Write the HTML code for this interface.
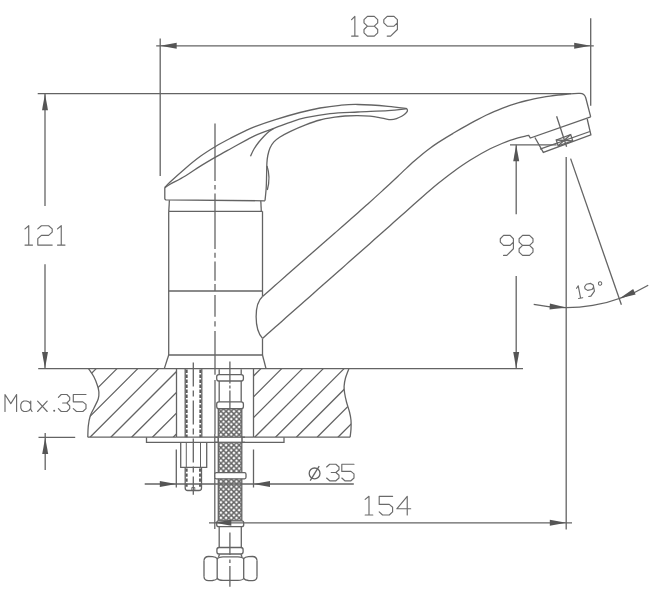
<!DOCTYPE html>
<html><head><meta charset="utf-8"><title>Faucet drawing</title>
<style>html,body{margin:0;padding:0;background:#fff;font-family:"Liberation Sans",sans-serif;}svg{display:block}</style></head>
<body>
<svg width="661" height="600" viewBox="0 0 661 600" shape-rendering="geometricPrecision">
<defs><filter id="soft" x="0" y="0" width="661" height="600" filterUnits="userSpaceOnUse"><feGaussianBlur stdDeviation="0.42"/></filter></defs>
<rect width="661" height="600" fill="#fff"/>
<g filter="url(#soft)">
<path d="M215.00 123.50 L215.00 181.00" fill="none" stroke="#646464" stroke-width="1.3"/>
<path d="M215.00 185.00 L215.00 189.50" fill="none" stroke="#646464" stroke-width="1.3"/>
<path d="M215.00 193.50 L215.00 249.00" fill="none" stroke="#646464" stroke-width="1.3"/>
<path d="M215.00 252.70 L215.00 257.70" fill="none" stroke="#646464" stroke-width="1.3"/>
<path d="M215.00 261.50 L215.00 280.70" fill="none" stroke="#646464" stroke-width="1.3"/>
<path d="M215.00 284.00 L215.00 291.00" fill="none" stroke="#646464" stroke-width="1.3"/>
<path d="M215.00 295.00 L215.00 316.70" fill="none" stroke="#646464" stroke-width="1.3"/>
<path d="M215.00 321.20 L215.00 326.50" fill="none" stroke="#646464" stroke-width="1.3"/>
<path d="M215.00 331.00 L215.00 374.70" fill="none" stroke="#646464" stroke-width="1.3"/>
<path d="M215.00 380.00 L215.00 434.00" fill="none" stroke="#646464" stroke-width="1.3"/>
<path d="M214.80 434.00 L214.80 529.00" fill="none" stroke="#646464" stroke-width="1.3"/>
<path d="M193.30 362.50 L193.30 494.70" fill="none" stroke="#646464" stroke-width="1.3" stroke-dasharray="24 4 6 4"/>
<path d="M164.80 187.60 C165.68 186.67 166.68 185.20 170.10 182.00 C173.52 178.80 180.25 172.68 185.30 168.40 C190.35 164.12 195.37 159.95 200.40 156.30 C205.43 152.65 210.47 149.52 215.50 146.50 C220.53 143.48 225.55 140.85 230.60 138.20 C235.65 135.55 241.73 132.53 245.80 130.60 C249.87 128.67 250.07 128.43 255.00 126.60 C259.93 124.77 267.90 121.95 275.40 119.60 C282.90 117.25 292.57 114.43 300.00 112.50 C307.43 110.57 313.33 109.20 320.00 108.00 C326.67 106.80 333.70 105.88 340.00 105.30 C346.30 104.72 349.80 104.33 357.80 104.50 C365.80 104.67 379.80 105.60 388.00 106.30 C396.20 107.00 403.83 108.30 407.00 108.70" fill="none" stroke="#646464" stroke-width="1.3"/>
<path d="M164.80 187.60 C165.68 187.05 166.68 186.23 170.10 184.30 C173.52 182.37 180.25 179.03 185.30 176.00 C190.35 172.97 195.37 169.25 200.40 166.10 C205.43 162.95 210.47 160.00 215.50 157.10 C220.53 154.20 225.55 151.48 230.60 148.70 C235.65 145.92 241.73 142.58 245.80 140.40 C249.87 138.22 250.32 137.62 255.00 135.60 C259.68 133.58 268.07 130.52 273.90 128.30 C279.73 126.08 284.72 124.07 290.00 122.30 C295.28 120.53 298.93 119.15 305.60 117.70 C312.27 116.25 321.30 114.55 330.00 113.60 C338.70 112.65 348.13 112.48 357.80 112.00 C367.47 111.52 379.80 111.25 388.00 110.70 C396.20 110.15 403.83 109.03 407.00 108.70" fill="none" stroke="#646464" stroke-width="1.3"/>
<path d="M407.00 108.70 C407.07 109.08 407.65 110.20 407.40 111.00 C407.15 111.80 406.45 112.62 405.50 113.50 C404.55 114.38 403.20 115.45 401.70 116.30 C400.20 117.15 398.28 118.05 396.50 118.60 C394.72 119.15 392.83 119.55 391.00 119.60 C389.17 119.65 387.25 119.20 385.50 118.90 C383.75 118.60 383.08 118.25 380.50 117.80 C377.92 117.35 373.78 116.57 370.00 116.20 C366.22 115.83 361.97 115.63 357.80 115.60 C353.63 115.57 348.80 115.73 345.00 116.00 C341.20 116.27 339.17 116.53 335.00 117.20 C330.83 117.87 324.90 118.73 320.00 120.00 C315.10 121.27 310.52 122.92 305.60 124.80 C300.68 126.68 294.77 129.27 290.50 131.30 C286.23 133.33 282.77 135.23 280.00 137.00 C277.23 138.77 275.57 140.07 273.90 141.90 C272.23 143.73 271.02 145.73 270.00 148.00 C268.98 150.27 268.32 153.00 267.80 155.50 C267.28 158.00 267.10 159.75 266.90 163.00 C266.70 166.25 266.72 170.83 266.60 175.00 C266.48 179.17 266.47 183.70 266.20 188.00 C265.93 192.30 265.20 198.67 265.00 200.80" fill="none" stroke="#646464" stroke-width="1.3"/>
<path d="M250.40 156.30 C251.00 155.08 252.65 151.30 254.00 149.00 C255.35 146.70 256.83 144.63 258.50 142.50 C260.17 140.37 262.25 138.03 264.00 136.20 C265.75 134.37 267.35 132.82 269.00 131.50 C270.65 130.18 273.08 128.83 273.90 128.30" fill="none" stroke="#646464" stroke-width="1.3"/>
<path d="M267 166 Q270.8 177 267.3 190" fill="none" stroke="#646464" stroke-width="1.3"/>
<path d="M164.80 187.60 L164.80 198.90 L165.80 199.90 L265.00 200.80" fill="none" stroke="#646464" stroke-width="1.3"/>
<path d="M169.40 200.30 L168.80 211.30" fill="none" stroke="#646464" stroke-width="1.3"/>
<path d="M260.80 200.80 L261.30 211.30" fill="none" stroke="#646464" stroke-width="1.3"/>
<path d="M168.70 211.30 L262.50 211.30" fill="none" stroke="#646464" stroke-width="1.3"/>
<path d="M168.70 211.30 L168.70 355.00" fill="none" stroke="#646464" stroke-width="1.3"/>
<path d="M262.50 211.30 L262.50 296.50" fill="none" stroke="#646464" stroke-width="1.3"/>
<path d="M262.50 338.60 L262.50 355.00" fill="none" stroke="#646464" stroke-width="1.3"/>
<path d="M168.70 291.00 L262.50 291.00" fill="none" stroke="#646464" stroke-width="1.3"/>
<path d="M168.70 355.00 L262.50 355.00" fill="none" stroke="#646464" stroke-width="1.3"/>
<path d="M168.70 355.00 L164.30 368.60" fill="none" stroke="#646464" stroke-width="1.3"/>
<path d="M262.50 355.00 L266.00 368.60" fill="none" stroke="#646464" stroke-width="1.3"/>
<path d="M262.50 296.60 C263.75 295.50 267.42 292.30 270.00 290.01 C272.58 287.72 275.33 285.24 278.00 282.87 C280.67 280.50 283.33 278.14 286.00 275.79 C288.67 273.44 291.33 271.09 294.00 268.75 C296.67 266.41 299.33 264.07 302.00 261.74 C304.67 259.41 307.33 257.08 310.00 254.76 C312.67 252.43 315.33 250.11 318.00 247.78 C320.67 245.46 323.33 243.13 326.00 240.81 C328.67 238.48 331.33 236.15 334.00 233.82 C336.67 231.49 339.33 229.16 342.00 226.82 C344.67 224.48 347.33 222.13 350.00 219.78 C352.67 217.43 355.33 215.07 358.00 212.70 C360.67 210.33 363.33 207.96 366.00 205.57 C368.67 203.18 371.33 200.79 374.00 198.38 C376.67 195.97 379.33 193.55 382.00 191.11 C384.67 188.67 387.33 186.23 390.00 183.75 C392.67 181.27 395.33 178.75 398.00 176.23 C400.67 173.71 403.33 171.13 406.00 168.64 C408.67 166.14 411.33 163.65 414.00 161.27 C416.67 158.90 419.33 156.58 422.00 154.40 C424.67 152.22 427.33 150.16 430.00 148.20 C432.67 146.25 435.33 144.43 438.00 142.66 C440.67 140.89 443.33 139.24 446.00 137.59 C448.67 135.95 451.33 134.39 454.00 132.81 C456.67 131.24 459.33 129.69 462.00 128.15 C464.67 126.62 467.33 125.10 470.00 123.62 C472.67 122.15 475.33 120.69 478.00 119.30 C480.67 117.90 483.33 116.55 486.00 115.26 C488.67 113.98 491.33 112.75 494.00 111.60 C496.67 110.44 499.33 109.36 502.00 108.33 C504.67 107.31 507.33 106.35 510.00 105.45 C512.67 104.55 515.33 103.71 518.00 102.93 C520.67 102.15 523.33 101.42 526.00 100.75 C528.67 100.08 531.33 99.46 534.00 98.89 C536.67 98.32 539.33 97.81 542.00 97.33 C544.67 96.86 547.33 96.43 550.00 96.05 C552.67 95.66 555.33 95.32 558.00 95.02 C560.67 94.72 563.33 94.46 566.00 94.23 C568.67 94.00 571.67 93.80 574.00 93.65 C576.33 93.50 579.00 93.40 580.00 93.34 Q584.6 93.4 585.8 98 L590.7 116.9" fill="none" stroke="#646464" stroke-width="1.3"/>
<path d="M262.50 338.40 C263.75 337.30 267.42 334.06 270.00 331.77 C272.58 329.49 275.33 327.04 278.00 324.68 C280.67 322.32 283.33 319.96 286.00 317.60 C288.67 315.24 291.33 312.88 294.00 310.52 C296.67 308.16 299.33 305.81 302.00 303.45 C304.67 301.10 307.33 298.75 310.00 296.39 C312.67 294.04 315.33 291.69 318.00 289.33 C320.67 286.98 323.33 284.63 326.00 282.28 C328.67 279.93 331.33 277.57 334.00 275.22 C336.67 272.87 339.33 270.52 342.00 268.16 C344.67 265.81 347.33 263.45 350.00 261.10 C352.67 258.74 355.33 256.39 358.00 254.03 C360.67 251.67 363.33 249.31 366.00 246.95 C368.67 244.59 371.33 242.22 374.00 239.86 C376.67 237.49 379.33 235.13 382.00 232.76 C384.67 230.39 387.33 228.02 390.00 225.65 C392.67 223.27 395.33 220.90 398.00 218.52 C400.67 216.15 403.33 213.77 406.00 211.39 C408.67 209.01 411.33 206.63 414.00 204.26 C416.67 201.90 419.33 199.53 422.00 197.20 C424.67 194.87 427.33 192.56 430.00 190.29 C432.67 188.03 435.33 185.79 438.00 183.62 C440.67 181.44 443.33 179.31 446.00 177.25 C448.67 175.18 451.33 173.17 454.00 171.23 C456.67 169.28 459.33 167.40 462.00 165.58 C464.67 163.76 467.33 162.00 470.00 160.31 C472.67 158.62 475.33 157.00 478.00 155.45 C480.67 153.90 483.33 152.42 486.00 151.01 C488.67 149.61 491.33 148.27 494.00 147.02 C496.67 145.76 499.33 144.58 502.00 143.48 C504.67 142.39 507.33 141.37 510.00 140.44 C512.67 139.52 515.33 138.67 518.00 137.92 C520.67 137.17 524.20 136.36 526.00 135.94 C527.80 135.51 528.33 135.47 528.80 135.38 L530.3 138 L590.7 116.9" fill="none" stroke="#646464" stroke-width="1.3"/>
<path d="M262.5 296.60 C254 304 254 329 262.5 338.40" fill="none" stroke="#646464" stroke-width="1.3"/>
<path d="M534.90 137.50 L543.30 152.40 L590.90 134.80 L587.20 119.00" fill="none" stroke="#646464" stroke-width="1.3"/>
<path d="M540.00 149.10 L589.90 131.50" fill="none" stroke="#646464" stroke-width="1.3"/>
<path d="M556.20 140.00 L570.70 134.60 L572.70 140.80 L558.20 145.80 Z" fill="none" stroke="#646464" stroke-width="1.3"/>
<path d="M556.20 140.00 L572.70 140.80" fill="none" stroke="#646464" stroke-width="1.3"/>
<path d="M570.70 134.60 L558.20 145.80" fill="none" stroke="#646464" stroke-width="1.3"/>
<path d="M556.60 116.30 L566.60 146.80" fill="none" stroke="#646464" stroke-width="1.3"/>
<path d="M88.50 368.60 C89.42 370.00 92.50 374.15 94.00 377.00 C95.50 379.85 96.68 383.20 97.50 385.70 C98.32 388.20 98.78 389.78 98.90 392.00 C99.02 394.22 99.02 396.33 98.20 399.00 C97.38 401.67 95.33 405.17 94.00 408.00 C92.67 410.83 91.15 413.00 90.20 416.00 C89.25 419.00 88.70 422.47 88.30 426.00 C87.90 429.53 87.88 435.33 87.80 437.20" fill="none" stroke="#646464" stroke-width="1.3"/>
<path d="M348.90 368.60 C348.33 370.17 346.30 375.05 345.50 378.00 C344.70 380.95 344.25 383.80 344.10 386.30 C343.95 388.80 344.20 390.38 344.60 393.00 C345.00 395.62 345.68 398.83 346.50 402.00 C347.32 405.17 348.75 408.97 349.50 412.00 C350.25 415.03 350.75 417.37 351.00 420.20 C351.25 423.03 351.15 426.17 351.00 429.00 C350.85 431.83 350.25 435.83 350.10 437.20" fill="none" stroke="#646464" stroke-width="1.3"/>
<path d="M87.80 437.20 L176.50 437.20" fill="none" stroke="#646464" stroke-width="1.3"/>
<path d="M253.50 437.20 L350.10 437.20" fill="none" stroke="#646464" stroke-width="1.3"/>
<path d="M176.50 368.60 L176.50 437.20" fill="none" stroke="#646464" stroke-width="1.3"/>
<path d="M253.50 368.60 L253.50 437.20" fill="none" stroke="#646464" stroke-width="1.3"/>
<clipPath id="cl"><path d="M88.50 368.60 C89.42 370.00 92.50 374.15 94.00 377.00 C95.50 379.85 96.68 383.20 97.50 385.70 C98.32 388.20 98.78 389.78 98.90 392.00 C99.02 394.22 99.02 396.33 98.20 399.00 C97.38 401.67 95.33 405.17 94.00 408.00 C92.67 410.83 91.15 413.00 90.20 416.00 C89.25 419.00 88.70 422.47 88.30 426.00 C87.90 429.53 87.88 435.33 87.80 437.20 L176.5 437.2 L176.5 368.6 Z"/></clipPath>
<clipPath id="cr"><path d="M253.5 368.6 L253.5 437.2 L350.10 437.20 C350.25 435.83 350.85 431.83 351.00 429.00 C351.15 426.17 351.25 423.03 351.00 420.20 C350.75 417.37 350.25 415.03 349.50 412.00 C348.75 408.97 347.32 405.17 346.50 402.00 C345.68 398.83 345.00 395.62 344.60 393.00 C344.20 390.38 343.95 388.80 344.10 386.30 C344.25 383.80 344.70 380.95 345.50 378.00 C346.30 375.05 348.33 370.17 348.90 368.60 Z"/></clipPath>
<g clip-path="url(#cl)"><path d="M-34.80 437.20 L33.80 368.60 M-14.00 437.20 L54.60 368.60 M6.80 437.20 L75.40 368.60 M27.60 437.20 L96.20 368.60 M48.40 437.20 L117.00 368.60 M69.20 437.20 L137.80 368.60 M90.00 437.20 L158.60 368.60 M110.80 437.20 L179.40 368.60 M131.60 437.20 L200.20 368.60 M152.40 437.20 L221.00 368.60 M173.20 437.20 L241.80 368.60 M194.00 437.20 L262.60 368.60 M214.80 437.20 L283.40 368.60 M235.60 437.20 L304.20 368.60 M256.40 437.20 L325.00 368.60 M277.20 437.20 L345.80 368.60 " fill="none" stroke="#646464" stroke-width="1.3"/></g>
<g clip-path="url(#cr)"><path d="M129.90 437.20 L198.50 368.60 M150.70 437.20 L219.30 368.60 M171.50 437.20 L240.10 368.60 M192.30 437.20 L260.90 368.60 M213.10 437.20 L281.70 368.60 M233.90 437.20 L302.50 368.60 M254.70 437.20 L323.30 368.60 M275.50 437.20 L344.10 368.60 M296.30 437.20 L364.90 368.60 M317.10 437.20 L385.70 368.60 M337.90 437.20 L406.50 368.60 M358.70 437.20 L427.30 368.60 M379.50 437.20 L448.10 368.60 M400.30 437.20 L468.90 368.60 M421.10 437.20 L489.70 368.60 M441.90 437.20 L510.50 368.60 " fill="none" stroke="#646464" stroke-width="1.3"/></g>
<path d="M146.50 437.20 L146.50 442.30 L284.00 442.30 L284.00 437.20" fill="none" stroke="#646464" stroke-width="1.3"/>
<path d="M176.50 437.20 L253.50 437.20" fill="none" stroke="#646464" stroke-width="1.3"/>
<path d="M185.20 368.60 L185.20 437.20" fill="none" stroke="#646464" stroke-width="1.3"/>
<path d="M201.80 368.60 L201.80 437.20" fill="none" stroke="#646464" stroke-width="1.3"/>
<path d="M186.70 369.60 L186.70 437.20" fill="none" stroke="#5a5a5a" stroke-width="1.9" stroke-dasharray="3.3 1.7"/>
<path d="M200.30 369.60 L200.30 437.20" fill="none" stroke="#5a5a5a" stroke-width="1.9" stroke-dasharray="3.3 1.7"/>
<path d="M180.70 442.00 L180.70 467.30 L206.70 467.30 L206.70 442.00" fill="none" stroke="#646464" stroke-width="1.3"/>
<path d="M186.30 442.00 L186.30 467.30" fill="none" stroke="#646464" stroke-width="1.0"/>
<path d="M200.50 442.00 L200.50 467.30" fill="none" stroke="#646464" stroke-width="1.0"/>
<path d="M185.2 467.3 L185.2 488 Q185.2 490.5 187.7 490.5 L199 490.5 Q201.5 490.5 201.5 488 L201.5 467.3" fill="none" stroke="#646464" stroke-width="1.3"/>
<path d="M186.70 468.50 L186.70 488.50" fill="none" stroke="#5a5a5a" stroke-width="1.9" stroke-dasharray="3.3 1.7"/>
<path d="M200.00 468.50 L200.00 488.50" fill="none" stroke="#5a5a5a" stroke-width="1.9" stroke-dasharray="3.3 1.7"/>
<path d="M191.8 490.5 L191.8 487.5 L194.8 487.5 L194.8 490.5" fill="none" stroke="#646464" stroke-width="0.9"/>
<path d="M219.20 369.20 L219.20 375.00" fill="none" stroke="#646464" stroke-width="1.3"/>
<path d="M241.20 369.20 L241.20 375.00" fill="none" stroke="#646464" stroke-width="1.3"/>
<path d="M219.20 381.00 L219.20 402.40" fill="none" stroke="#646464" stroke-width="1.3"/>
<path d="M241.20 381.00 L241.20 402.40" fill="none" stroke="#646464" stroke-width="1.3"/>
<pattern id="br" x="218.3" y="408.7" width="5.2" height="5.2" patternUnits="userSpaceOnUse"><rect width="5.2" height="5.2" fill="#fff"/><path d="M-1 -1 L6.2 6.2 M6.2 -1 L-1 6.2" stroke="#646464" stroke-width="1.4"/></pattern>
<rect x="218.3" y="408.6" width="23.5" height="112.2" fill="url(#br)" stroke="#646464" stroke-width="1.3"/>
<rect x="216.70" y="374.60" width="26.70" height="6.40" rx="2.2" fill="#fff" stroke="#646464" stroke-width="1.3"/>
<rect x="216.70" y="401.80" width="26.70" height="6.80" rx="2.2" fill="#fff" stroke="#646464" stroke-width="1.3"/>
<rect x="218.3" y="437.2" width="23.6" height="5.1" fill="#fff" stroke="none"/>
<path d="M218.30 437.20 L218.30 442.30" fill="none" stroke="#646464" stroke-width="1.3"/>
<path d="M241.90 437.20 L241.90 442.30" fill="none" stroke="#646464" stroke-width="1.3"/>
<path d="M215.00 437.20 L245.00 437.20" fill="none" stroke="#646464" stroke-width="1.3"/>
<path d="M215.00 442.30 L245.00 442.30" fill="none" stroke="#646464" stroke-width="1.3"/>
<rect x="214.80" y="472.70" width="31.20" height="6.10" rx="1.5" fill="#fff" stroke="#646464" stroke-width="1.3"/>
<rect x="216.70" y="520.80" width="27.00" height="5.90" rx="2.0" fill="#fff" stroke="#646464" stroke-width="1.3"/>
<path d="M219.20 526.70 L219.20 547.50" fill="none" stroke="#646464" stroke-width="1.3"/>
<path d="M241.30 526.70 L241.30 547.50" fill="none" stroke="#646464" stroke-width="1.3"/>
<rect x="216.90" y="547.50" width="26.20" height="6.50" rx="2.2" fill="#fff" stroke="#646464" stroke-width="1.3"/>
<path d="M219.50 554.20 L218.50 557.00" fill="none" stroke="#646464" stroke-width="1.3"/>
<path d="M241.00 554.20 L242.00 557.00" fill="none" stroke="#646464" stroke-width="1.3"/>
<path d="M204 560.50 Q204.3 556.70 208.5 556.50 L212.5 556.70 Q216 557.00 217.2 558.70 Q218.5 557.00 223 556.80 L238 556.80 Q242.5 557.00 243.7 558.70 Q245 557.00 248.5 556.70 L252.5 556.50 Q256.7 556.70 257 560.50" fill="none" stroke="#646464" stroke-width="1.3"/>
<path d="M204 576.70 Q204.3 580.50 208.5 580.70 L212.5 580.50 Q216 580.20 217.2 578.50 Q218.5 580.20 223 580.40 L238 580.40 Q242.5 580.20 243.7 578.50 Q245 580.20 248.5 580.50 L252.5 580.70 Q256.7 580.50 257 576.70" fill="none" stroke="#646464" stroke-width="1.3"/>
<path d="M204 560.50 L204 576.70 M257 560.50 L257 576.70 M217.2 558.70 L217.2 578.50 M243.7 558.70 L243.7 578.50" fill="none" stroke="#646464" stroke-width="1.3"/>
<path d="M229.90 361.50 L229.90 383.50" fill="none" stroke="#646464" stroke-width="1.3"/>
<path d="M229.90 385.50 L229.90 388.50" fill="none" stroke="#646464" stroke-width="1.3"/>
<path d="M229.90 390.50 L229.90 408.00" fill="none" stroke="#646464" stroke-width="1.3"/>
<path d="M229.90 532.50 L229.90 555.00" fill="none" stroke="#646464" stroke-width="1.3"/>
<path d="M229.90 559.50 L229.90 563.00" fill="none" stroke="#646464" stroke-width="1.3"/>
<path d="M229.90 566.00 L229.90 586.70" fill="none" stroke="#646464" stroke-width="1.3"/>
<path d="M351.60 19.60 L354.85 16.30 L354.85 36.10 M351.60 36.10 L358.10 36.10" fill="none" stroke="#6a6a6a" stroke-width="1.15" stroke-linejoin="round" stroke-linecap="round"/>
<path d="M367.43 26.20 L364.00 22.90 L364.00 19.60 L367.43 16.30 L374.27 16.30 L377.70 19.60 L377.70 22.90 L374.27 26.20 L367.43 26.20 L364.00 29.50 L364.00 32.80 L367.43 36.10 L374.27 36.10 L377.70 32.80 L377.70 29.50 L374.27 26.20" fill="none" stroke="#6a6a6a" stroke-width="1.15" stroke-linejoin="round" stroke-linecap="round"/>
<path d="M397.40 22.90 L394.00 26.20 L387.20 26.20 L383.80 22.90 L383.80 19.60 L387.20 16.30 L394.00 16.30 L397.40 19.60 L397.40 29.50 L390.60 36.10 L387.20 36.10" fill="none" stroke="#6a6a6a" stroke-width="1.15" stroke-linejoin="round" stroke-linecap="round"/>
<path d="M25.00 228.93 L28.75 225.70 L28.75 245.10 M25.00 245.10 L32.50 245.10" fill="none" stroke="#6a6a6a" stroke-width="1.15" stroke-linejoin="round" stroke-linecap="round"/>
<path d="M37.80 228.93 L41.40 225.70 L48.60 225.70 L52.20 228.93 L52.20 232.17 L48.60 235.40 L41.40 235.40 L37.80 238.63 L37.80 245.10 L52.20 245.10" fill="none" stroke="#6a6a6a" stroke-width="1.15" stroke-linejoin="round" stroke-linecap="round"/>
<path d="M57.50 228.93 L61.25 225.70 L61.25 245.10 M57.50 245.10 L65.00 245.10" fill="none" stroke="#6a6a6a" stroke-width="1.15" stroke-linejoin="round" stroke-linecap="round"/>
<path d="M513.40 242.07 L510.12 245.40 L503.57 245.40 L500.30 242.07 L500.30 238.73 L503.57 235.40 L510.12 235.40 L513.40 238.73 L513.40 248.73 L506.85 255.40 L503.57 255.40" fill="none" stroke="#6a6a6a" stroke-width="1.15" stroke-linejoin="round" stroke-linecap="round"/>
<path d="M522.58 245.40 L519.10 242.07 L519.10 238.73 L522.58 235.40 L529.52 235.40 L533.00 238.73 L533.00 242.07 L529.52 245.40 L522.58 245.40 L519.10 248.73 L519.10 252.07 L522.58 255.40 L529.52 255.40 L533.00 252.07 L533.00 248.73 L529.52 245.40" fill="none" stroke="#6a6a6a" stroke-width="1.15" stroke-linejoin="round" stroke-linecap="round"/>
<path d="M365.20 499.42 L369.00 496.30 L369.00 515.00 M365.20 515.00 L372.80 515.00" fill="none" stroke="#6a6a6a" stroke-width="1.15" stroke-linejoin="round" stroke-linecap="round"/>
<path d="M392.60 496.30 L379.20 496.30 L379.20 504.40 L389.25 504.40 L392.60 507.21 L392.60 511.88 L389.25 515.00 L382.55 515.00 L379.20 511.88" fill="none" stroke="#6a6a6a" stroke-width="1.15" stroke-linejoin="round" stroke-linecap="round"/>
<path d="M407.23 515.00 L407.23 496.30 L396.80 508.77 L410.70 508.77" fill="none" stroke="#6a6a6a" stroke-width="1.15" stroke-linejoin="round" stroke-linecap="round"/>
<circle cx="314.6" cy="473.4" r="5.4" fill="none" stroke="#646464" stroke-width="1.3"/>
<path d="M310.20 480.60 L319.20 466.20" fill="none" stroke="#646464" stroke-width="1.3"/>
<path d="M326.60 466.97 L329.70 464.20 L335.90 464.20 L339.00 466.97 L339.00 469.73 L335.90 472.50 L331.25 472.50 M335.90 472.50 L339.00 475.27 L339.00 478.03 L335.90 480.80 L329.70 480.80 L326.60 478.03" fill="none" stroke="#6a6a6a" stroke-width="1.15" stroke-linejoin="round" stroke-linecap="round"/>
<path d="M354.00 464.20 L341.80 464.20 L341.80 471.39 L350.95 471.39 L354.00 473.88 L354.00 478.03 L350.95 480.80 L344.85 480.80 L341.80 478.03" fill="none" stroke="#6a6a6a" stroke-width="1.15" stroke-linejoin="round" stroke-linecap="round"/>
<path d="M5.00 411.50 L5.00 394.50 L10.80 403.57 L16.60 394.50 L16.60 411.50" fill="none" stroke="#6a6a6a" stroke-width="1.15" stroke-linejoin="round" stroke-linecap="round"/>
<path d="M30.74 401.00 L30.74 409.40 L32.02 411.50 M30.74 408.35 L28.70 410.80 L26.41 411.50 L23.86 411.50 L21.82 410.27 L20.80 408.00 L20.80 404.50 L21.82 402.23 L23.86 401.00 L26.41 401.00 L28.70 401.70 L30.74 404.15" fill="none" stroke="#6a6a6a" stroke-width="1.15" stroke-linejoin="round" stroke-linecap="round"/>
<path d="M37.60 411.50 L47.20 401.20 M37.60 401.20 L47.20 411.50" fill="none" stroke="#6a6a6a" stroke-width="1.15" stroke-linejoin="round" stroke-linecap="round"/>
<circle cx="54.2" cy="410.8" r="1" fill="#646464"/>
<path d="M58.40 397.33 L61.23 394.50 L66.88 394.50 L69.70 397.33 L69.70 400.17 L66.88 403.00 L62.64 403.00 M66.88 403.00 L69.70 405.83 L69.70 408.67 L66.88 411.50 L61.23 411.50 L58.40 408.67" fill="none" stroke="#6a6a6a" stroke-width="1.15" stroke-linejoin="round" stroke-linecap="round"/>
<path d="M86.00 394.50 L73.30 394.50 L73.30 401.87 L82.83 401.87 L86.00 404.42 L86.00 408.67 L82.83 411.50 L76.47 411.50 L73.30 408.67" fill="none" stroke="#6a6a6a" stroke-width="1.15" stroke-linejoin="round" stroke-linecap="round"/>
<path d="M578.60 288.58 L580.70 286.50 L580.70 299.00 M578.60 299.00 L582.80 299.00" fill="none" stroke="#6a6a6a" stroke-width="1.15" stroke-linejoin="round" stroke-linecap="round" transform="rotate(-11 576 299)"/>
<path d="M595.60 290.67 L593.40 292.75 L589.00 292.75 L586.80 290.67 L586.80 288.58 L589.00 286.50 L593.40 286.50 L595.60 288.58 L595.60 294.83 L591.20 299.00 L589.00 299.00" fill="none" stroke="#6a6a6a" stroke-width="1.15" stroke-linejoin="round" stroke-linecap="round" transform="rotate(-11 576 299)"/>
<circle cx="602.6" cy="288.4" r="1.7" fill="none" stroke="#646464" stroke-width="1" transform="rotate(-11 576 299)"/>
<path d="M160.20 38.50 L160.20 176.00" fill="none" stroke="#646464" stroke-width="1.3"/>
<path d="M590.70 18.30 L590.70 105.70" fill="none" stroke="#646464" stroke-width="1.3"/>
<path d="M156.20 45.80 L593.80 45.80" fill="none" stroke="#646464" stroke-width="1.3"/>
<path d="M160.20 45.80 L176.70 42.80 L176.70 48.80 Z" fill="#555"/>
<path d="M590.70 45.80 L574.20 48.80 L574.20 42.80 Z" fill="#555"/>
<path d="M37.70 93.70 L571.00 93.70" fill="none" stroke="#646464" stroke-width="1.3"/>
<path d="M45.00 93.70 L45.00 206.00" fill="none" stroke="#646464" stroke-width="1.3"/>
<path d="M45.00 264.30 L45.00 368.60" fill="none" stroke="#646464" stroke-width="1.3"/>
<path d="M45.00 93.70 L48.00 110.20 L42.00 110.20 Z" fill="#555"/>
<path d="M45.00 368.60 L42.00 352.10 L48.00 352.10 Z" fill="#555"/>
<path d="M38.20 368.60 L523.00 368.60" fill="none" stroke="#646464" stroke-width="1.3"/>
<path d="M516.20 144.80 L516.20 214.30" fill="none" stroke="#646464" stroke-width="1.3"/>
<path d="M516.20 275.90 L516.20 368.60" fill="none" stroke="#646464" stroke-width="1.3"/>
<path d="M516.20 144.80 L519.20 161.30 L513.20 161.30 Z" fill="#555"/>
<path d="M516.20 368.60 L513.20 352.10 L519.20 352.10 Z" fill="#555"/>
<path d="M510.00 144.90 L556.60 144.90" fill="none" stroke="#646464" stroke-width="1.3"/>
<path d="M38.50 437.40 L75.20 437.40" fill="none" stroke="#646464" stroke-width="1.3"/>
<path d="M45.20 433.00 L45.20 470.00" fill="none" stroke="#646464" stroke-width="1.3"/>
<path d="M45.20 437.40 L48.20 453.90 L42.20 453.90 Z" fill="#555"/>
<path d="M144.70 484.00 L353.80 484.00" fill="none" stroke="#646464" stroke-width="1.3"/>
<path d="M176.30 449.50 L176.30 487.50" fill="none" stroke="#646464" stroke-width="1.3"/>
<path d="M253.50 449.50 L253.50 487.50" fill="none" stroke="#646464" stroke-width="1.3"/>
<path d="M176.30 484.00 L159.80 487.00 L159.80 481.00 Z" fill="#555"/>
<path d="M253.50 484.00 L270.00 481.00 L270.00 487.00 Z" fill="#555"/>
<path d="M209.00 522.80 L572.00 522.80" fill="none" stroke="#646464" stroke-width="1.3"/>
<path d="M214.80 522.80 L231.30 519.80 L231.30 525.80 Z" fill="#555"/>
<path d="M566.30 522.80 L549.80 525.80 L549.80 519.80 Z" fill="#555"/>
<path d="M566.20 157.00 L566.20 529.40" fill="none" stroke="#646464" stroke-width="1.3"/>
<path d="M570.60 158.60 L621.40 304.80" fill="none" stroke="#646464" stroke-width="1.3"/>
<path d="M533.71 304.30 A161.60 161.60 0 0 0 648.22 285.24" fill="none" stroke="#646464" stroke-width="1.3"/>
<path d="M566.20 307.60 L549.55 309.59 L549.91 303.60 Z" fill="#555"/>
<path d="M619.34 298.61 L633.17 289.11 L635.62 294.58 Z" fill="#555"/>
</g>
</svg>
</body></html>
